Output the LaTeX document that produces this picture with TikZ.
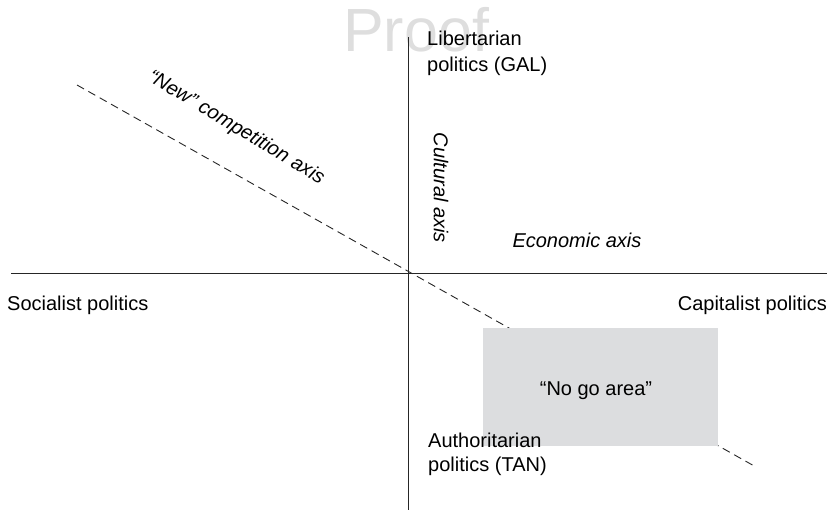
\documentclass[tikz,border=0pt]{standalone}
\usepackage{fontspec}
\setmainfont{Liberation Sans}
\begin{document}
\begin{tikzpicture}[x=1pt,y=-1pt,
  lbl/.style={inner sep=0pt,font=\fontsize{20}{24}\selectfont},
  ilbl/.style={lbl,font=\fontsize{20}{24}\selectfont\itshape},
  axisline/.style={draw=black!85,line width=1pt},
  newaxisline/.style={draw=black!85,line width=0.9pt,dash pattern=on 8pt off 5pt},
  nogobox/.style={fill=nogogray,draw=none}]
\definecolor{nogogray}{HTML}{DCDDDF}
\definecolor{proofgray}{HTML}{DEDEDE}
\useasboundingbox (0,0) rectangle (831,512);

% watermark
\node[inner sep=0pt,anchor=base west,text=proofgray,font=\fontsize{61}{62}\selectfont] (proof) at (343,51) {Proof};

% end points of the three axes
\coordinate (vtop) at (408,37);
\coordinate (vbot) at (408,510);
\coordinate (hleft) at (11,273);
\coordinate (hright) at (827,273);
\coordinate (nstart) at (77,85);
\coordinate (nend) at (756,467);

% "new" competition axis, partly hidden by the no-go box
\draw[newaxisline] (nstart) -- (nend);

% no-go area
\node[nogobox,minimum width=235pt,minimum height=118pt,inner sep=0pt,anchor=north west] (box) at (483,328) {};
\node[lbl,anchor=base] (nogo) at (596,395) {“No go area”};

% main axes
\draw[axisline] (vtop) -- (vbot);
\draw[axisline] (hleft) -- (hright);

% axis end labels
\node[lbl,anchor=base west] (soc) at (7,310) {Socialist politics};
\node[lbl,anchor=base east] (cap) at (827,310) {Capitalist politics};
\node[lbl,anchor=base west,align=left,font=\fontsize{20}{26}\selectfont] (gal) at (427,71) {Libertarian\\politics (GAL)};
\node[lbl,anchor=base west,align=left,font=\fontsize{20}{24}\selectfont] (tan) at (428,471) {Authoritarian\\politics (TAN)};

% axis names
\node[ilbl,rotate=-90] (cult) at (441,188) {Cultural axis};
\node[ilbl,anchor=base] (econ) at (577,247) {Economic axis};
\node[ilbl,rotate=-31] (newax) at (236,128) {“New” competition axis};
\end{tikzpicture}
\end{document}
